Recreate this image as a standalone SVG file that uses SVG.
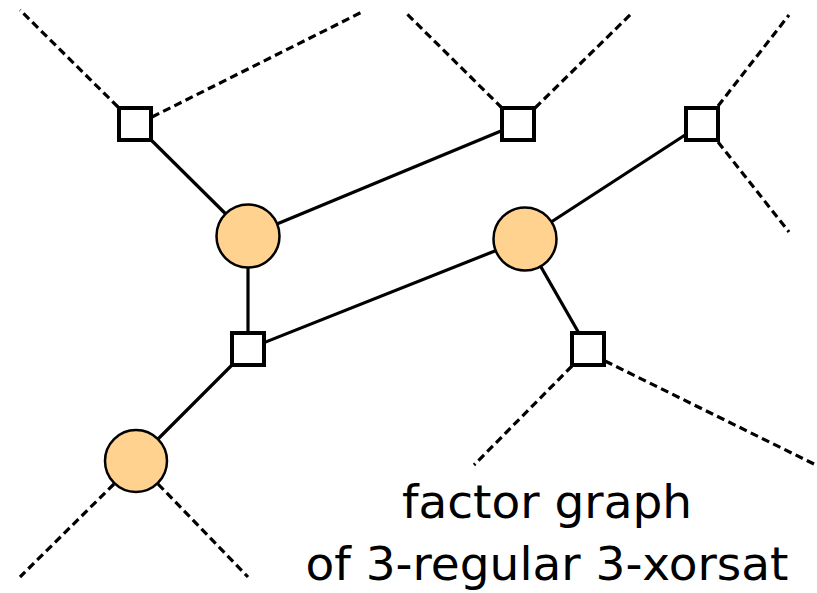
<svg xmlns="http://www.w3.org/2000/svg" width="817" height="593" viewBox="0 0 817 593">
  <style>
    .edge { stroke: #000; stroke-width: 3.2; fill: none; }
    .half { stroke: #000; stroke-width: 3.2; fill: none; stroke-dasharray: 8 4.5; }
    .var { fill: #FFD290; stroke: #000; stroke-width: 2.5; }
    .check { fill: #fff; stroke: #000; stroke-width: 4; }
    .label { font-family: "DejaVu Sans", "Liberation Sans", sans-serif; font-size: 47px; fill: #000; text-anchor: middle; }
  </style>
  <rect width="817" height="593" fill="#fff"/>
  <g id="connectors">
    <!-- solid edges between variables and checks -->
    <line class="edge" x1="135" y1="124" x2="248" y2="236"/>
    <line class="edge" x1="248" y1="236" x2="518" y2="124"/>
    <line class="edge" x1="248" y1="236" x2="248" y2="349"/>
    <line class="edge" x1="248" y1="349" x2="525" y2="239"/>
    <line class="edge" x1="525" y1="239" x2="702" y2="124"/>
    <line class="edge" x1="525" y1="239" x2="588" y2="349"/>
    <line class="edge" x1="248" y1="349" x2="136" y2="461"/>
    <!-- dangling half-edges -->
    <line class="half" x1="118" y1="107" x2="20" y2="10"/>
    <line class="half" x1="152" y1="117" x2="362" y2="12"/>
    <line class="half" x1="502" y1="108" x2="405" y2="12"/>
    <line class="half" x1="535" y1="108" x2="633" y2="12"/>
    <line class="half" x1="718" y1="106" x2="789" y2="15"/>
    <line class="half" x1="718" y1="142" x2="789" y2="232"/>
    <line class="half" x1="572" y1="366" x2="474" y2="465"/>
    <line class="half" x1="605" y1="361" x2="814" y2="464"/>
    <line class="half" x1="114" y1="484" x2="20" y2="577"/>
    <line class="half" x1="158" y1="484" x2="248" y2="577"/>
  </g>
  <g id="c1"><rect class="check" x="119" y="108" width="32" height="32"/></g>
  <g id="c2"><rect class="check" x="502" y="108" width="32" height="32"/></g>
  <g id="c3"><rect class="check" x="686" y="108" width="32" height="32"/></g>
  <g id="c4"><rect class="check" x="232" y="333" width="32" height="32"/></g>
  <g id="c5"><rect class="check" x="572" y="333" width="32" height="32"/></g>
  <g id="v1"><circle class="var" cx="248" cy="236" r="31.5"/></g>
  <g id="v2"><circle class="var" cx="525" cy="239" r="31.5"/></g>
  <g id="v3"><circle class="var" cx="136" cy="461" r="31"/></g>
  <g id="caption">
    <text class="label" x="547" y="518">factor graph</text>
    <text class="label" x="547" y="580">of 3-regular 3-xorsat</text>
  </g>
</svg>
